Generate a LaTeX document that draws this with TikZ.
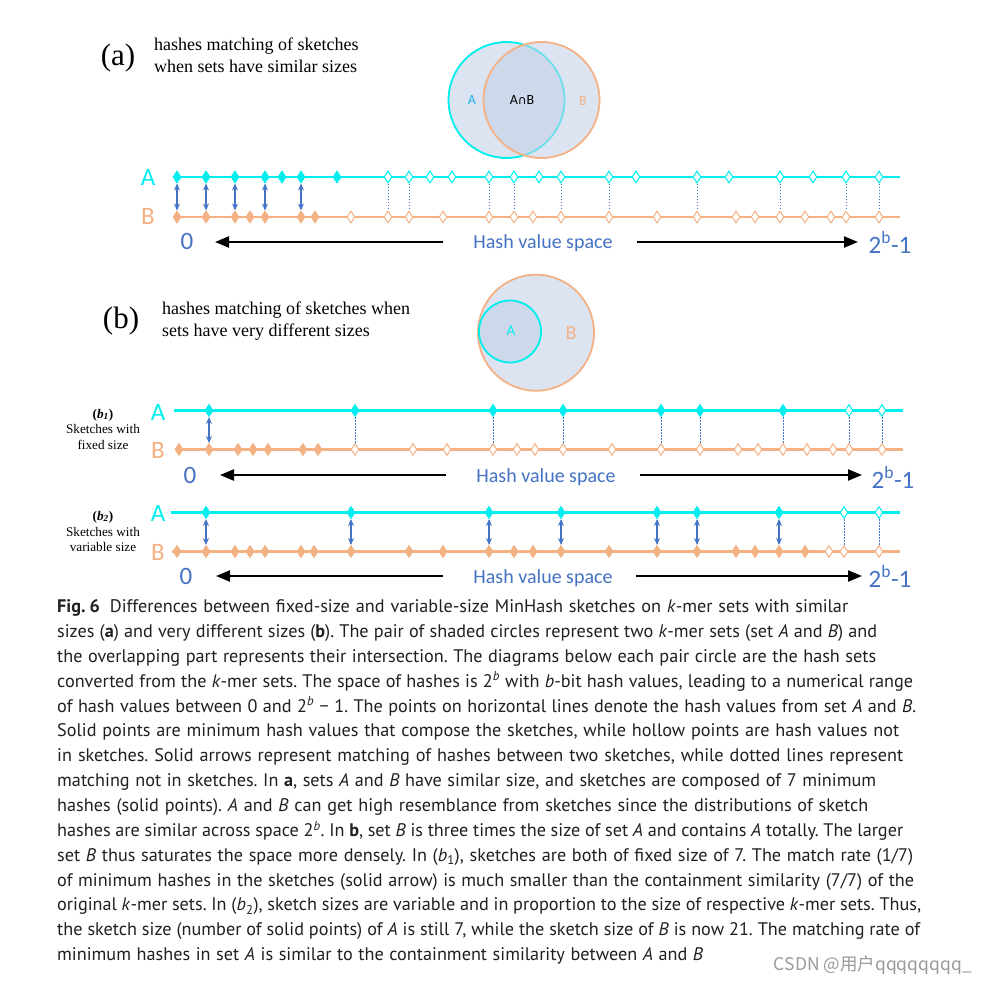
\documentclass[tikz,border=0pt]{standalone}
\usepackage{fontspec}
\setmainfont{Liberation Serif}
\newfontfamily\capfont{PT Sans}
\newfontfamily\calfont{Carlito}
\newfontfamily\symfont{DejaVu Sans}
\newfontfamily\cjkfont{Noto Sans CJK SC}
\usetikzlibrary{arrows.meta,shapes.geometric}
\frenchspacing
\definecolor{cyanl}{HTML}{00EEEE}
\definecolor{cyant}{HTML}{1AB2E8}
\definecolor{orgl}{HTML}{F4B183}
\definecolor{blu}{HTML}{4472C4}
\definecolor{vfill}{RGB}{194,209,232}
\definecolor{captxt}{HTML}{231F20}
\definecolor{wmark}{HTML}{9A9A9A}
\tikzset{
 hline/.style={line width=2.6pt},
 dmd/.style={diamond, inner sep=0pt, minimum width=8pt, minimum height=12pt, line width=1pt},
 sA/.style={dmd, fill=cyanl, draw=cyanl},
 hA/.style={dmd, fill=white, draw=cyanl},
 sB/.style={dmd, fill=orgl, draw=orgl},
 hB/.style={dmd, fill=white, draw=orgl},
 match/.style={blu, line width=1.2pt, {Stealth[length=7pt,width=6pt]}-{Stealth[length=7pt,width=6pt]}},
 dots/.style={blu, line width=0.8pt, dash pattern=on 1.5pt off 1.5pt},
 axarrow/.style={line width=2.2pt, -{Triangle[length=14pt,width=11pt]}},
 axtext/.style={anchor=base, inner sep=0pt, font=\calfont\fontsize{20}{22}\selectfont, text=blu},
 endtext/.style={anchor=base, inner sep=0pt, font=\calfont\fontsize{25}{28}\selectfont, text=blu},
 setA/.style={anchor=base, inner sep=0pt, font=\calfont\fontsize{25}{28}\selectfont, text=cyanl},
 setB/.style={anchor=base, inner sep=0pt, font=\calfont\fontsize{25}{28}\selectfont, text=orgl},
 serifhead/.style={anchor=base west, inner sep=0pt, font=\fontsize{18}{21}\selectfont},
 panel/.style={anchor=base, inner sep=0pt, font=\fontsize{31}{34}\selectfont},
 side/.style={anchor=base, inner sep=0pt, font=\fontsize{13.2}{15}\selectfont},
 vset/.style={circle, inner sep=0pt, fill=vfill, fill opacity=0.57, line width=1.8pt},
 capstyle/.style={anchor=base west, inner sep=0pt, text=captxt, font=\capfont\fontsize{18.2}{22}\selectfont},
}
\begin{document}
\begin{tikzpicture}[x=1pt,y=-1pt]
\path[use as bounding box, fill=white] (0,0) rectangle (987,983);

% ---------- (a) header ----------
\node[panel] (pa) at (118,65) {(a)};
\node[serifhead] (ta1) at (154,50) {hashes matching of sketches};
\node[serifhead] (ta2) at (154,72) {when sets have similar sizes};
\node[vset, draw=cyanl, minimum size=116pt] (cA) at (506.5,100) {};
\node[vset, draw=orgl, minimum size=116pt] (cB) at (541.5,100) {};
\node[font=\calfont\fontsize{14}{16}\selectfont, text=cyant] (cAl) at (472,100) {A};
\node[font=\calfont\fontsize{14}{16}\selectfont] (cABl) at (522,100) {A{\symfont\fontsize{12}{14}\selectfont ∩}B};
\node[font=\calfont\fontsize{14}{16}\selectfont, text=orgl] (cBl) at (583,101) {B};

% ---------- (a) lines ----------
\coordinate (aAs) at (173,177); \coordinate (aAe) at (900,177);
\coordinate (aBs) at (173,217); \coordinate (aBe) at (900,217);
\draw[hline, cyanl] (aAs) -- (aAe);
\draw[hline, orgl] (aBs) -- (aBe);
\foreach \x in {177,206,235,265,282,301,337} \node[sA] (aA\x) at (\x,177) {};
\foreach \x in {388,409,430,452,489,514,539,561,609,636,697,729,780,813,846,879} \node[hA] (aA\x) at (\x,177) {};
\foreach \x in {177,206,235,250,265,301,315} \node[sB] (aB\x) at (\x,217) {};
\foreach \x in {351,388,409,443,489,514,533,561,609,657,697,736,755,780,805,831,846,879} \node[hB] (aB\x) at (\x,217) {};
\foreach \x in {177,206,235,265,301} \draw[match] (aA\x) -- (aB\x);
\foreach \x in {388,409,489,514,561,609,697,780,846,879} \draw[dots] (aA\x) -- (aB\x);
\node[setA] (aLA) at (148,185) {A};
\node[setB] (aLB) at (148,224.5) {B};
\node[endtext] (a0) at (187,249.5) {0};
\node[axtext] (aH) at (543,248) {Hash value space};
\node[endtext] (a2) at (890,253) {2\textsuperscript{b}-1};
\coordinate (aLs) at (443,242); \coordinate (aLe) at (215,242);
\coordinate (aRs) at (637,242); \coordinate (aRe) at (858,242);
\draw[axarrow] (aLs) -- (aLe);
\draw[axarrow] (aRs) -- (aRe);

% ---------- (b) header ----------
\node[panel] (pb) at (121,328) {(b)};
\node[serifhead] (tb1) at (162,314) {hashes matching of sketches when};
\node[serifhead] (tb2) at (162,336) {sets have very different sizes};
\node[vset, draw=orgl, minimum size=116pt] (dB) at (536,332.7) {};
\node[vset, draw=cyanl, minimum size=62pt] (dA) at (510,331.5) {};
\node[font=\calfont\fontsize{15}{17}\selectfont, text=cyanl] (dAl) at (511,331) {A};
\node[font=\calfont\fontsize{20}{22}\selectfont, text=orgl] (dBl) at (571,333) {B};

% ---------- (b1) ----------
\node[side] (s1a) at (103,418) {\textbf{(\textit{b}\textsubscript{\textit{1}})}};
\node[side] (s1b) at (103,433) {Sketches with};
\node[side] (s1c) at (103,449) {fixed size};
\coordinate (pAs) at (174,410.5); \coordinate (pAe) at (903,410.5);
\coordinate (pBs) at (175,449.5); \coordinate (pBe) at (903,449.5);
\draw[hline, cyanl] (pAs) -- (pAe);
\draw[hline, orgl] (pBs) -- (pBe);
\foreach \x in {209,355,493,563,661,700,783} \node[sA] (pA\x) at (\x,410.5) {};
\foreach \x in {849,882} \node[hA] (pA\x) at (\x,410.5) {};
\foreach \x in {179,209,238,253,268,303,318} \node[sB] (pB\x) at (\x,449.5) {};
\foreach \x in {355,413,447,493,517,535,563,612,661,700,738,758,783,807,833,849,882} \node[hB] (pB\x) at (\x,449.5) {};
\foreach \x in {209} \draw[match] (pA\x) -- (pB\x);
\foreach \x in {355,493,563,661,700,783,849,882} \draw[dots] (pA\x) -- (pB\x);
\node[setA] (pLA) at (158,420) {A};
\node[setB] (pLB) at (158,458) {B};
\node[endtext] (p0) at (190,483) {0};
\node[axtext] (pH) at (546,482) {Hash value space};
\node[endtext] (p2) at (893,488) {2\textsuperscript{b}-1};
\coordinate (pLs) at (446,475); \coordinate (pLe) at (220,475);
\coordinate (pRs) at (640,475); \coordinate (pRe) at (862,475);
\draw[axarrow] (pLs) -- (pLe);
\draw[axarrow] (pRs) -- (pRe);

% ---------- (b2) ----------
\node[side] (s2a) at (103,520) {\textbf{(\textit{b}\textsubscript{\textit{2}})}};
\node[side] (s2b) at (103,536) {Sketches with};
\node[side] (s2c) at (103,551) {variable size};
\coordinate (qAs) at (171,512.5); \coordinate (qAe) at (900,512.5);
\coordinate (qBs) at (172,551.5); \coordinate (qBe) at (900,551.5);
\draw[hline, cyanl] (qAs) -- (qAe);
\draw[hline, orgl] (qBs) -- (qBe);
\foreach \x in {206,351,489,561,657,697,779} \node[sA] (qA\x) at (\x,512.5) {};
\foreach \x in {844,879} \node[hA] (qA\x) at (\x,512.5) {};
\foreach \x in {177,206,235,250,265,301,314,351,409,443,489,514,533,561,609,657,697,736,755,779,805} \node[sB] (qB\x) at (\x,551.5) {};
\foreach \x in {829,844,879} \node[hB] (qB\x) at (\x,551.5) {};
\foreach \x in {206,351,489,561,657,697,779} \draw[match] (qA\x) -- (qB\x);
\foreach \x in {844,879} \draw[dots] (qA\x) -- (qB\x);
\node[setA] (qLA) at (158,521.5) {A};
\node[setB] (qLB) at (158,560) {B};
\node[endtext] (q0) at (186,584) {0};
\node[axtext] (qH) at (543,583) {Hash value space};
\node[endtext] (q2) at (890,587) {2\textsuperscript{b}-1};
\coordinate (qLs) at (443,576); \coordinate (qLe) at (216,576);
\coordinate (qRs) at (636,576); \coordinate (qRe) at (862,576);
\draw[axarrow] (qLs) -- (qLe);
\draw[axarrow] (qRs) -- (qRe);

% ---------- caption ----------
\node[capstyle] (L1) at (57,612.7) {\makebox[791pt][s]{\textbf{Fig.\hspace{0.22em}6}\hspace{0.55em}Differences between fixed-size and variable-size MinHash sketches on \textit{k}-mer sets with similar}};
\node[capstyle] (L2) at (57,637.5) {\makebox[820pt][s]{sizes (\textbf{a}) and very different sizes (\textbf{b}). The pair of shaded circles represent two \textit{k}-mer sets (set \textit{A} and \textit{B}) and}};
\node[capstyle] (L3) at (57,662.4) {\makebox[819pt][s]{the overlapping part represents their intersection. The diagrams below each pair circle are the hash sets}};
\node[capstyle] (L4) at (57,687.2) {\makebox[856pt][s]{converted from the \textit{k}-mer sets. The space of hashes is 2\textsuperscript{\textit{b}} with \textit{b}-bit hash values, leading to a numerical range}};
\node[capstyle] (L5) at (57,712.1) {\makebox[859pt][s]{of hash values between 0 and 2\textsuperscript{\textit{b}} − 1. The points on horizontal lines denote the hash values from set \textit{A} and \textit{B}.}};
\node[capstyle] (L6) at (57,736.9) {\makebox[842pt][s]{Solid points are minimum hash values that compose the sketches, while hollow points are hash values not}};
\node[capstyle] (L7) at (57,761.8) {\makebox[846pt][s]{in sketches. Solid arrows represent matching of hashes between two sketches, while dotted lines represent}};
\node[capstyle] (L8) at (57,786.6) {\makebox[819pt][s]{matching not in sketches. In \textbf{a}, sets \textit{A} and \textit{B} have similar size, and sketches are composed of 7 minimum}};
\node[capstyle] (L9) at (57,811.5) {\makebox[811pt][s]{hashes (solid points). \textit{A} and \textit{B} can get high resemblance from sketches since the distributions of sketch}};
\node[capstyle] (L10) at (57,836.3) {\makebox[846pt][s]{hashes are similar across space 2\textsuperscript{\textit{b}}. In \textbf{b}, set \textit{B} is three times the size of set \textit{A} and contains \textit{A} totally. The larger}};
\node[capstyle] (L11) at (57,861.2) {\makebox[856pt][s]{set \textit{B} thus saturates the space more densely. In (\textit{b}\textsubscript{1}), sketches are both of fixed size of 7. The match rate (1/7)}};
\node[capstyle] (L12) at (57,886.0) {\makebox[857pt][s]{of minimum hashes in the sketches (solid arrow) is much smaller than the containment similarity (7/7) of the}};
\node[capstyle] (L13) at (57,910.9) {\makebox[864pt][s]{original \textit{k}-mer sets. In (\textit{b}\textsubscript{2}), sketch sizes are variable and in proportion to the size of respective \textit{k}-mer sets. Thus,}};
\node[capstyle] (L14) at (57,935.7) {\makebox[863pt][s]{the sketch size (number of solid points) of \textit{A} is still 7, while the sketch size of \textit{B} is now 21. The matching rate of}};
\node[capstyle] (L15) at (57,960.6) {\makebox[646pt][s]{minimum hashes in set \textit{A} is similar to the containment similarity between \textit{A} and \textit{B}}};

% ---------- watermark ----------
\node[anchor=base east, inner sep=0pt, text=wmark, font=\cjkfont\fontsize{17.5}{19}\selectfont] (wm) at (972,970) {CSDN @用户qqqqqqqq\_};
\end{tikzpicture}
\end{document}
